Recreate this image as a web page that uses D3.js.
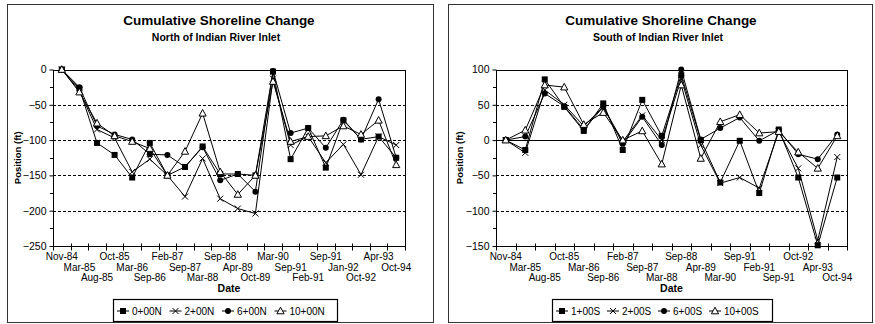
<!DOCTYPE html>
<html><head><meta charset="utf-8">
<script src="https://cdn.jsdelivr.net/npm/d3@7"></script>
<style>
body{margin:0;background:#fff;}
svg{display:block;}
text{fill:#000;}
</style></head>
<body>
<svg id="chart" width="875" height="324"></svg>
<script>
// ---------- DATA ----------
const northDates = ["Nov-84","Mar-85","Aug-85","Oct-85","Mar-86","Sep-86","Feb-87","Sep-87","Mar-88","Sep-88","Apr-89","Oct-89","Mar-90","Sep-91","Feb-91","Sep-91","Jan-92","Oct-92","Apr-93","Oct-94"];
const north0  = [0,-27,-104,-121,-153,-104,-150,-138,-109,-148,-148,-150,-3,-127,-83,-139,-72,-99,-95,-125];
const north2  = [0,-30,-85,-97,-145,-127,-150,-180,-126,-183,-197,-204,-13,-107,-95,-132,-106,-149,-95,-107];
const north6  = [0,-25,-80,-92,-99,-120,-121,-138,-110,-157,-148,-173,-2,-90,-83,-111,-71,-99,-42,-125];
const north10 = [0,-32,-76,-94,-102,-112,-150,-116,-62,-145,-177,-150,-17,-102,-95,-94,-80,-92,-72,-135];
const northNames = ["0+00N","2+00N","6+00N","10+00N"];
const northTicks = [0,-50,-100,-150,-200,-250];

const southDates = ["Nov-84","Mar-85","Aug-85","Oct-85","Mar-86","Sep-86","Feb-87","Sep-87","Mar-88","Sep-88","Apr-89","Mar-90","Sep-91","Feb-91","Sep-91","Oct-92","Apr-93","Oct-94"];
const south1  = [0,-14,86,47,13,52,-14,57,6,92,0,-60,-1,-75,15,-53,-149,-53];
const south2  = [0,-18,71,50,20,47,-2,35,0,87,-7,-61,-53,-68,12,-40,-142,-24];
const south6  = [0,5,66,48,15,47,-5,33,-7,100,1,17,32,-1,14,-20,-27,8];
const south10 = [0,14,78,75,22,39,0,13,-34,78,-26,26,36,10,12,-17,-40,6];
const southNames = ["1+00S","2+00S","6+00S","10+00S"];
const southTicks = [100,50,0,-50,-100,-150];

const titleText = "Cumulative Shoreline Change";
const northSub = "North of Indian River Inlet";
const southSub = "South of Indian River Inlet";
const yTitle = "Position (ft)";
const xTitle = "Date";
// ---------------------------

const svg = d3.select("#chart");
const markerTypes = ["square","x","circle","triangle"];
const NARROW = "'Liberation Sans Narrow','Arial Narrow','Liberation Sans',Arial,sans-serif";
const SANS = "'Liberation Sans',Arial,Helvetica,sans-serif";

function drawMarker(g, type, x, y){
  if(type==="square"){
    g.append("rect").attr("x",x-3).attr("y",y-3).attr("width",6).attr("height",6).attr("fill","#000");
  } else if(type==="circle"){
    g.append("circle").attr("cx",x).attr("cy",y).attr("r",3).attr("fill","#000");
  } else if(type==="triangle"){
    g.append("path").attr("d",`M${x},${y-3.8}L${x+3.6},${y+2.8}L${x-3.6},${y+2.8}Z`)
      .attr("fill","#fff").attr("stroke","#000").attr("stroke-width",1);
  } else {
    g.append("path").attr("d",`M${x-3},${y-3}L${x+3},${y+3}M${x-3},${y+3}L${x+3},${y-3}`)
      .attr("stroke","#000").attr("stroke-width",1);
  }
}

function panel(o){
  const g = svg.append("g");
  g.append("rect").attr("x",o.frame[0]+0.5).attr("y",4.5).attr("width",o.frame[1]-o.frame[0]).attr("height",318)
    .attr("fill","none").attr("stroke","#333").attr("stroke-width",1);
  g.append("text").attr("x",o.titleX).attr("y",25).attr("text-anchor","middle")
    .attr("font-family",SANS).attr("font-weight","bold").attr("font-size","13.5px").text(titleText);
  g.append("text").attr("x",o.titleX-3).attr("y",41).attr("text-anchor","middle")
    .attr("font-family",SANS).attr("font-weight","bold").attr("font-size","10.5px").text(o.sub);

  const x = d3.scaleBand().domain(d3.range(o.dates.length)).range([o.x0,o.x1]);
  const y = d3.scaleLinear().domain(o.yDomain).range([246,69.5]);

  o.grid.forEach(v=>{
    g.append("line").attr("x1",o.x0).attr("x2",o.x1).attr("y1",Math.round(y(v))+0.5).attr("y2",Math.round(y(v))+0.5)
      .attr("stroke","#000").attr("stroke-width",1).attr("stroke-dasharray",v===0?null:"3,2");
  });
  g.append("rect").attr("x",o.x0+0.5).attr("y",Math.round(y(o.yDomain[1]))+0.5)
    .attr("width",o.x1-o.x0).attr("height",Math.round(y(o.yDomain[0]))-Math.round(y(o.yDomain[1])))
    .attr("fill","none").attr("stroke","#000").attr("stroke-width",1);

  const yAxis = d3.axisLeft(y).tickValues(o.yTicks).tickSize(4).tickPadding(3).tickFormat(d3.format("d"));
  const ya = g.append("g").attr("transform",`translate(${o.x0+0.5},0)`).call(yAxis);
  ya.select(".domain").remove();
  ya.selectAll("text").attr("font-family",SANS).attr("font-size","10.5px").attr("fill","#000");
  ya.selectAll("line").attr("stroke","#000");
  const minor = d3.range(o.yDomain[0]+25, o.yDomain[1], 50);
  minor.forEach(v=>{
    g.append("line").attr("x1",o.x0-3).attr("x2",o.x0+1).attr("y1",Math.round(y(v))+0.5).attr("y2",Math.round(y(v))+0.5).attr("stroke","#000");
  });

  const yb = Math.round(y(o.yDomain[0]))+0.5;
  d3.range(o.dates.length+1).forEach(i=>{
    const xx = Math.round(o.x0 + i*x.bandwidth())+0.5;
    g.append("line").attr("x1",xx).attr("x2",xx).attr("y1",yb-3).attr("y2",yb+4).attr("stroke","#000");
  });
  o.dates.forEach((d,i)=>{
    g.append("text").attr("x",x(i)+x.bandwidth()/2).attr("y",260 + (i%3)*10.5)
      .attr("text-anchor","middle").attr("font-family",NARROW).attr("font-size","10px").text(d);
  });
  g.append("text").attr("x",(o.x0+o.x1)/2).attr("y",292).attr("text-anchor","middle")
    .attr("font-family",SANS).attr("font-weight","bold").attr("font-size","10.5px").text(xTitle);
  g.append("text").attr("transform",`translate(${o.yTitleX},${(69.5+246)/2}) rotate(-90)`).attr("text-anchor","middle")
    .attr("font-family",SANS).attr("font-weight","bold").attr("font-size","9.5px").text(yTitle);

  const line = d3.line().x((d,i)=>x(i)+x.bandwidth()/2).y(d=>y(d));
  o.series.forEach((s,k)=>{
    g.append("path").datum(s).attr("d",line).attr("fill","none").attr("stroke","#000").attr("stroke-width",1);
  });
  o.series.forEach((s,k)=>{
    s.forEach((v,i)=>drawMarker(g, markerTypes[k], x(i)+x.bandwidth()/2, y(v)));
  });

  const lx = o.legend[0], lw = o.legend[1];
  g.append("rect").attr("x",lx+0.5).attr("y",299.5).attr("width",lw).attr("height",22)
    .attr("fill","#fff").attr("stroke","#000").attr("stroke-width",1.2);
  o.names.forEach((n,k)=>{
    const ix = lx + 4 + k*o.legendStep;
    g.append("line").attr("x1",ix).attr("x2",ix+12).attr("y1",311).attr("y2",311).attr("stroke","#000");
    drawMarker(g, markerTypes[k], ix+6, 311);
    g.append("text").attr("x",ix+15).attr("y",314.5).attr("font-family",NARROW).attr("font-size","10px").text(n);
  });
}

panel({dates:northDates, series:[north0,north2,north6,north10], names:northNames,
  yDomain:[-250,0], yTicks:northTicks, grid:[-50,-100,-150,-200],
  x0:53, x1:405, frame:[7,433], titleX:219, sub:northSub, yTitleX:21,
  legend:[113,224], legendStep:52.5});
panel({dates:southDates, series:[south1,south2,south6,south10], names:southNames,
  yDomain:[-150,100], yTicks:southTicks, grid:[50,0,-50,-100],
  x0:496, x1:847, frame:[448,872], titleX:661, sub:southSub, yTitleX:463,
  legend:[552,220], legendStep:51});
</script>
</body></html>
